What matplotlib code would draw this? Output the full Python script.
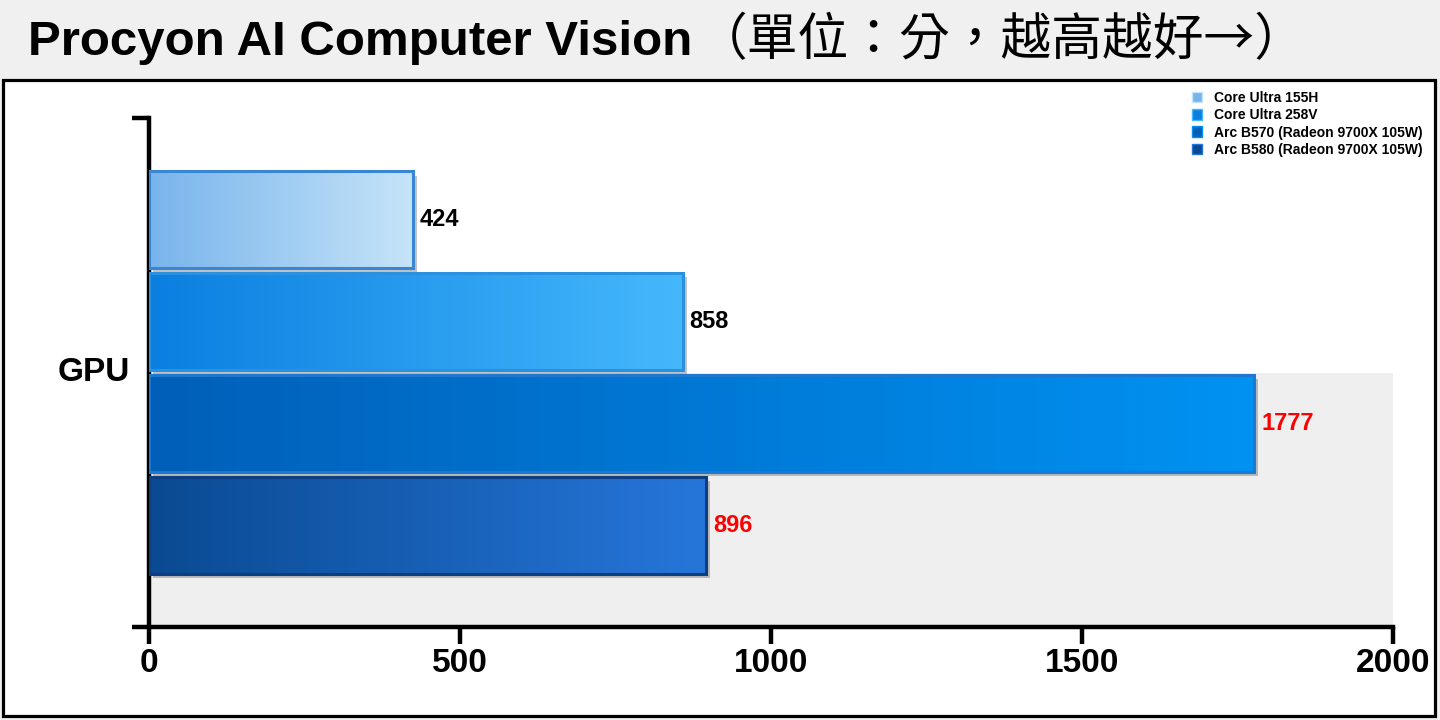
import matplotlib
matplotlib.use("Agg")
import matplotlib.pyplot as plt
import numpy as np
from matplotlib.colors import LinearSegmentedColormap
from matplotlib.patches import Rectangle, Patch
import matplotlib.patheffects as pe

# data
category = "GPU"
series = ["Core Ultra 155H", "Core Ultra 258V",
          "Arc B570 (Radeon 9700X 105W)", "Arc B580 (Radeon 9700X 105W)"]
scores = [424, 858, 1777, 896]
label_colors = ["black", "black", "#ff0000", "#ff0000"]
xticks = [0, 500, 1000, 1500, 2000]

# styling
grad_left = ["#78b4ec", "#0a7fe0", "#005fb8", "#0a4a92"]
grad_right = ["#c6e4f8", "#45b8fc", "#0092f2", "#2676da"]
edge_cols = ["#3a86d4", "#2a90e0", "#1f78d0", "#0d3f80"]
ypos = [0.3, 0.1, -0.1, -0.3]
bar_h = 0.19

W, H = 1440, 720
fig = plt.figure(figsize=(W / 100, H / 100), dpi=100, facecolor="#f0f0f0")

# white panel with black frame
fig.patches.append(Rectangle((3 / W, 1 - 716 / H), 1432 / W, 636 / H,
                             transform=fig.transFigure, facecolor="white",
                             edgecolor="black", linewidth=2.3, zorder=-1))

ax = fig.add_axes([149 / W, 1 - 627 / H, (1393 - 149) / W, (627 - 118) / H])
ax.set_facecolor("none")
ax.set_xlim(0, 2000)
ax.set_ylim(-0.5, 0.5)

# grey band behind lower half
ax.axhspan(-0.5, 0, xmin=0, xmax=1, color="#efefef", zorder=0, lw=0)

grad = np.linspace(0, 1, 256).reshape(1, -1)
for i, (name, val) in enumerate(zip(series, scores)):
    y = ypos[i]
    bar = ax.barh(y, val, height=bar_h, color=grad_left[i], edgecolor="none",
                  zorder=2)[0]
    bar.set_path_effects([pe.SimplePatchShadow(offset=(3, -3), alpha=0.35,
                                               shadow_rgbFace="#555555"),
                          pe.Normal()])
    cmap = LinearSegmentedColormap.from_list(f"g{i}", [grad_left[i], grad_right[i]])
    im = ax.imshow(grad, extent=[0, val, y - bar_h / 2, y + bar_h / 2],
                   aspect="auto", cmap=cmap, zorder=3)
    im.set_clip_path(bar)
    ax.barh(y, val, height=bar_h, color="none", edgecolor=edge_cols[i],
            linewidth=2.2, zorder=4)
    ax.annotate(str(val), (val, y), xytext=(5, 0), textcoords="offset points",
                va="center", ha="left", fontsize=17, fontweight="bold",
                color=label_colors[i], family="Liberation Sans", zorder=5)

# axes styling
for s in ["top", "right"]:
    ax.spines[s].set_visible(False)
ax.spines["left"].set_linewidth(3.2)
ax.spines["bottom"].set_linewidth(3.2)
ax.set_xticks(xticks)
ax.set_xticklabels([str(t) for t in xticks], fontsize=24, fontweight="bold",
                   family="Liberation Sans")
ax.tick_params(axis="x", length=12, width=3.2, pad=3)
ax.set_yticks([-0.5, 0.5])
ax.set_yticklabels(["", ""])
ax.tick_params(axis="y", length=12, width=3.2)
ax.text(-0.015, 0.0, category, transform=ax.get_yaxis_transform(),
        ha="right", va="center", fontsize=24, fontweight="bold",
        family="Liberation Sans")

# legend
handles = [Patch(facecolor=grad_left[i], edgecolor=grad_right[i]) for i in range(4)]
leg = fig.legend(handles, series, loc="upper left",
                 bbox_to_anchor=(1185 / W, 1 - 84 / H), frameon=False,
                 prop={"family": "Liberation Sans", "weight": "bold", "size": 10},
                 handlelength=0.7, handleheight=0.8, handletextpad=0.9,
                 labelspacing=0.24, borderpad=0)

# title
t1 = fig.text(28 / W, 1 - 55 / H, "Procyon AI Computer Vision", fontsize=35.5,
              fontweight="bold", family="Liberation Sans", va="baseline")
fig.canvas.draw()
bb = t1.get_window_extent()
fig.text(bb.x1 / W + 0.003, 1 - 55 / H, "（單位：分，越高越好→）", fontsize=36.5,
         family=["Noto Sans CJK TC", "DejaVu Sans"], va="baseline")

fig.savefig("out.png", dpi=100, facecolor=fig.get_facecolor())
